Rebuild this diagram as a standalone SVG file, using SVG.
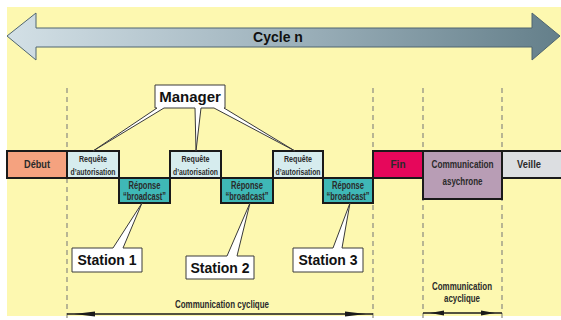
<svg xmlns="http://www.w3.org/2000/svg" width="561" height="320" viewBox="0 0 561 320">
  <defs>
    <linearGradient id="cycleGrad" x1="0" y1="0" x2="1" y2="0">
      <stop offset="0" stop-color="#d3e0e6"/>
      <stop offset="0.5" stop-color="#9fb3bd"/>
      <stop offset="1" stop-color="#647f8a"/>
    </linearGradient>
    <style>
      .frame { stroke: #1a1a1a; stroke-width: 2; }
      .guide { stroke: #8a8a80; stroke-width: 1.2; stroke-dasharray: 5 4; fill: none; }
      .cond { font-family: "Liberation Sans", Arial, sans-serif; font-weight: bold; text-anchor: middle; fill: #2a2a2a; }
      .callout { fill: #ffffff; stroke: #3a3a3a; stroke-width: 1; stroke-linejoin: miter; }
      .label { font-family: "Liberation Sans", Arial, sans-serif; font-weight: bold; text-anchor: middle; fill: #111111; }
      .bracket { stroke: #1a1a1a; stroke-width: 1.3; fill: none; }
    </style>
  </defs>

  <!-- background -->
  <rect x="0" y="0" width="561" height="320" fill="#ffffff"/>
  <rect x="7" y="7" width="554" height="309" fill="#fdf8b0"/>

  <!-- cycle arrow -->
  <g id="cycle">
    <polygon points="7,36 36,13 36,28 532,28 532,13 560,36 532,60 532,47 36,47 36,60" fill="url(#cycleGrad)" stroke="#4f6570" stroke-width="1"/>
    <text class="label" x="278" y="42" font-size="14">Cycle n</text>
  </g>

  <!-- phase guides and span brackets -->
  <g id="connectors">
    <line class="guide" x1="67" y1="88" x2="67" y2="318"/>
    <line class="guide" x1="373" y1="88" x2="373" y2="318"/>
    <line class="guide" x1="423" y1="88" x2="423" y2="318"/>
    <line class="guide" x1="502" y1="88" x2="502" y2="318"/>

    <line class="bracket" x1="67" y1="314" x2="373" y2="314"/>
    <polygon points="74,314 95,311.5 95,316.5" fill="#1a1a1a"/>
    <polygon points="366,314 345,311.5 345,316.5" fill="#1a1a1a"/>

    <line class="bracket" x1="423" y1="313" x2="502" y2="313"/>
    <polygon points="430,313 444,310.5 444,315.5" fill="#1a1a1a"/>
    <polygon points="495,313 481,310.5 481,315.5" fill="#1a1a1a"/>
  </g>

  <g id="span-cyclique">
    <text class="cond" x="222" y="308" font-size="11" textLength="94" lengthAdjust="spacingAndGlyphs">Communication cyclique</text>
  </g>
  <g id="span-acyclique">
    <text class="cond" x="462" y="290" font-size="11" textLength="60" lengthAdjust="spacingAndGlyphs">Communication</text>
    <text class="cond" x="462" y="302" font-size="11" textLength="36" lengthAdjust="spacingAndGlyphs">acyclique</text>
  </g>

  <!-- timeline frames -->
  <g id="debut">
    <rect class="frame" x="7" y="151" width="60" height="27" fill="#f5a27f"/>
    <text class="cond" x="37" y="168" font-size="11" textLength="26" lengthAdjust="spacingAndGlyphs" fill="#3a2418">Début</text>
  </g>

  <g id="requete-1">
    <rect class="frame" x="67" y="151" width="52" height="27" fill="#d6ecee"/>
    <text class="cond" x="93" y="162" font-size="9.5" textLength="28" lengthAdjust="spacingAndGlyphs">Requête</text>
    <text class="cond" x="93" y="175" font-size="9.5" textLength="45" lengthAdjust="spacingAndGlyphs">d’autorisation</text>
  </g>
  <g id="reponse-1">
    <rect class="frame" x="119" y="178" width="51" height="25" fill="#3fb8b6"/>
    <text class="cond" x="144.5" y="189" font-size="10.5" textLength="32" lengthAdjust="spacingAndGlyphs" fill="#0f2a2a">Réponse</text>
    <text class="cond" x="144.5" y="200" font-size="10.5" textLength="43" lengthAdjust="spacingAndGlyphs" fill="#0f2a2a">“broadcast”</text>
  </g>

  <g id="requete-2">
    <rect class="frame" x="170" y="151" width="51" height="27" fill="#d6ecee"/>
    <text class="cond" x="195.5" y="162" font-size="9.5" textLength="28" lengthAdjust="spacingAndGlyphs">Requête</text>
    <text class="cond" x="195.5" y="175" font-size="9.5" textLength="45" lengthAdjust="spacingAndGlyphs">d’autorisation</text>
  </g>
  <g id="reponse-2">
    <rect class="frame" x="221" y="178" width="52" height="25" fill="#3fb8b6"/>
    <text class="cond" x="247" y="189" font-size="10.5" textLength="32" lengthAdjust="spacingAndGlyphs" fill="#0f2a2a">Réponse</text>
    <text class="cond" x="247" y="200" font-size="10.5" textLength="43" lengthAdjust="spacingAndGlyphs" fill="#0f2a2a">“broadcast”</text>
  </g>

  <g id="requete-3">
    <rect class="frame" x="273" y="151" width="50" height="27" fill="#d6ecee"/>
    <text class="cond" x="298" y="162" font-size="9.5" textLength="28" lengthAdjust="spacingAndGlyphs">Requête</text>
    <text class="cond" x="298" y="175" font-size="9.5" textLength="45" lengthAdjust="spacingAndGlyphs">d’autorisation</text>
  </g>
  <g id="reponse-3">
    <rect class="frame" x="323" y="178" width="50" height="25" fill="#3fb8b6"/>
    <text class="cond" x="348" y="189" font-size="10.5" textLength="32" lengthAdjust="spacingAndGlyphs" fill="#0f2a2a">Réponse</text>
    <text class="cond" x="348" y="200" font-size="10.5" textLength="43" lengthAdjust="spacingAndGlyphs" fill="#0f2a2a">“broadcast”</text>
  </g>

  <g id="fin">
    <rect class="frame" x="373" y="151" width="50" height="27" fill="#e6075b"/>
    <text class="cond" x="398" y="168" font-size="11" textLength="15" lengthAdjust="spacingAndGlyphs" fill="#3a0418">Fin</text>
  </g>

  <g id="asynchrone">
    <rect class="frame" x="423" y="151" width="79" height="48" fill="#b89db5"/>
    <text class="cond" x="462.5" y="168" font-size="11.5" textLength="62" lengthAdjust="spacingAndGlyphs">Communication</text>
    <text class="cond" x="462.5" y="185" font-size="11.5" textLength="40" lengthAdjust="spacingAndGlyphs">asychrone</text>
  </g>

  <g id="veille">
    <rect class="frame" x="502" y="151" width="60" height="27" fill="#dcdee1"/>
    <text class="cond" x="529" y="168" font-size="11" textLength="24" lengthAdjust="spacingAndGlyphs">Veille</text>
  </g>

  <!-- callouts -->
  <g id="manager">
    <path class="callout" d="M155,85 H225 V108 H224 L295,151 L214,108 H201 L196,151 L195,108 H164 L93,151 L157,108 H155 Z"/>
    <text class="label" x="190" y="102" font-size="15">Manager</text>
  </g>

  <g id="station-1">
    <path class="callout" d="M72,248 H113 L142,203 L123,248 H142 V272 H72 Z"/>
    <text class="label" x="107" y="265" font-size="14">Station 1</text>
  </g>
  <g id="station-2">
    <path class="callout" d="M186,256 H227 L250,203 L237,256 H254 V279 H186 Z"/>
    <text class="label" x="220" y="273" font-size="14">Station 2</text>
  </g>
  <g id="station-3">
    <path class="callout" d="M293,248 H333 L350,203 L342,248 H363 V272 H293 Z"/>
    <text class="label" x="328" y="265" font-size="14">Station 3</text>
  </g>
</svg>
